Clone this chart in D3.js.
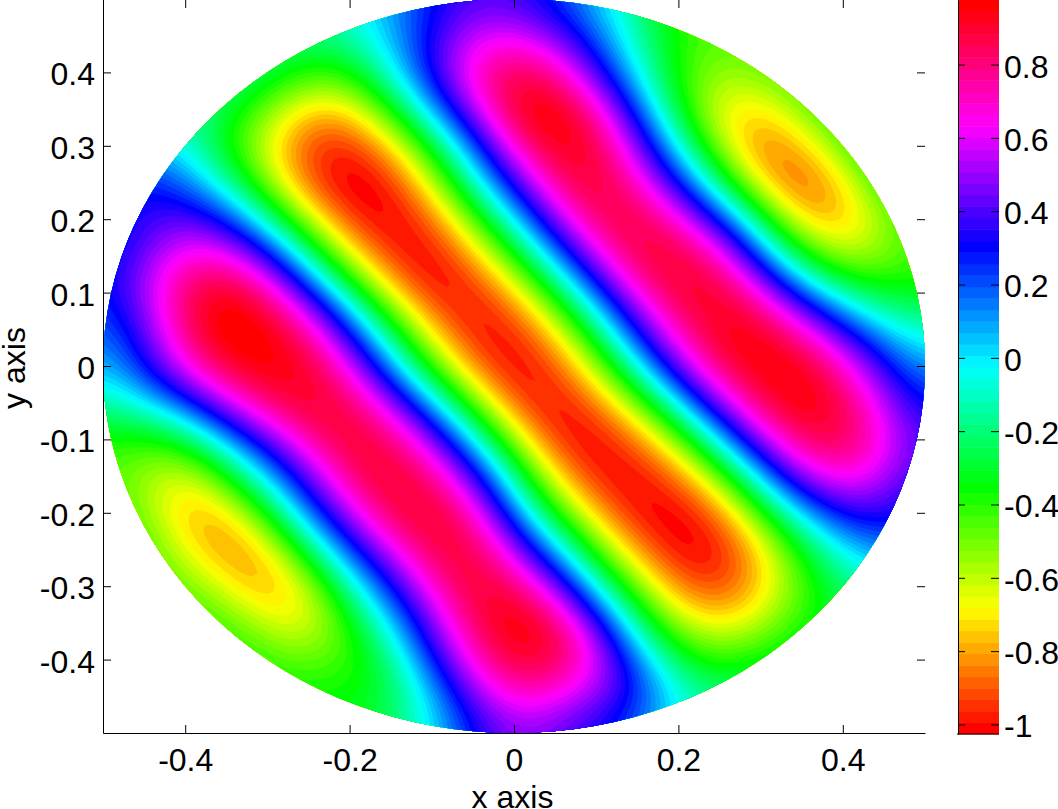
<!DOCTYPE html>
<html>
<head>
<meta charset="utf-8">
<script src="https://cdn.jsdelivr.net/npm/d3@7"></script>
<style>
  html, body { margin: 0; padding: 0; background: #fff; overflow: hidden; }
  text { font-family: "Liberation Sans", Arial, sans-serif; fill: #000; }
</style>
</head>
<body>
<svg width="1058" height="809"></svg>
<script>
// field values, every 0.05 in x and y (outside the disk: nearest colour)
const gridX = d3.range(21).map(i => -0.5 + i * 0.05);
const gridY = d3.range(21).map(i => 0.5 - i * 0.05);
const field = [
  [-.1,-.1,-.1,-.1,-.1,-.1,-.05,.1,.25,.32,.28,.18,.02,-.2,-.4,-.4,-.4,-.4,-.4,-.4,-.4],
  [-.1,-.1,-.1,-.1,-.15,-.2,-.12,.05,.3,.55,.58,.42,.18,-.12,-.36,-.42,-.4,-.4,-.4,-.4,-.4],
  [-.1,-.1,-.1,-.12,-.2,-.33,-.36,-.02,.33,.68,.82,.72,.32,-.05,-.38,-.5,-.4,-.35,-.3,-.3,-.3],
  [0,0,-.1,-.25,-.45,-.75,-.66,-.36,.1,.5,.93,.95,.72,.2,-.33,-.66,-.72,-.42,-.3,-.25,-.2],
  [.05,0,-.1,-.35,-.6,-.88,-.92,-.68,-.3,.12,.66,.9,.85,.45,-.03,-.55,-.84,-.72,-.38,-.2,-.15],
  [.3,.35,.2,-.14,-.5,-.85,-1.01,-.93,-.55,-.08,.33,.75,.87,.65,.28,-.2,-.72,-.92,-.68,-.3,-.2],
  [.15,.3,.38,.3,-.15,-.55,-.88,-.98,-.85,-.43,-.02,.47,.82,.85,.64,.28,-.2,-.72,-.78,-.5,-.3],
  [.2,.4,.66,.6,.38,-.15,-.62,-.88,-1,-.7,-.38,.1,.53,.85,.85,.72,.15,-.3,-.58,-.48,-.35],
  [.2,.5,.8,.93,.72,.33,-.2,-.64,-.97,-.95,-.7,-.3,.18,.65,.84,.87,.66,.15,-.15,-.33,-.3],
  [.08,.35,.75,.97,.9,.75,.28,-.23,-.66,-.94,-.93,-.64,-.23,.3,.7,.86,.9,.68,.33,0,-.12],
  [0,.3,.62,.85,.88,.85,.57,.09,-.44,-.79,-.98,-.85,-.51,-.03,.47,.82,.9,.88,.68,.33,.03],
  [-.15,-.03,.22,.55,.8,.88,.82,.51,.08,-.45,-.86,-.98,-.8,-.5,0,.48,.8,.95,.8,.5,.18],
  [-.35,-.38,-.33,.08,.36,.72,.86,.8,.47,.02,-.52,-.92,-.98,-.78,-.52,.05,.5,.78,.84,.64,.3],
  [-.4,-.5,-.66,-.33,.05,.38,.78,.87,.75,.4,-.15,-.66,-.92,-.98,-.78,-.52,.07,.52,.66,.5,.25],
  [-.35,-.42,-.82,-.7,-.33,.17,.5,.85,.87,.72,.13,-.35,-.72,-.94,-.98,-.8,-.42,.03,.33,.36,.2],
  [-.3,-.35,-.56,-.86,-.7,-.2,.2,.55,.82,.86,.5,.08,-.42,-.76,-.97,-.95,-.68,-.33,-.02,.15,.15],
  [-.4,-.4,-.42,-.56,-.86,-.6,-.1,.25,.64,.88,.78,.48,-.08,-.45,-.8,-.9,-.7,-.4,-.22,-.1,-.1],
  [-.35,-.35,-.35,-.38,-.52,-.72,-.33,-.02,.45,.75,.97,.85,.42,-.22,-.52,-.66,-.55,-.36,-.25,-.2,-.2],
  [-.3,-.3,-.3,-.3,-.38,-.42,-.4,-.25,.3,.64,.85,.82,.64,.18,-.3,-.38,-.3,-.2,-.2,-.2,-.2],
  [-.3,-.3,-.3,-.3,-.3,-.3,-.3,-.28,-.02,.42,.68,.6,.42,.33,-.02,-.15,-.15,-.15,-.15,-.15,-.15],
  [-.3,-.3,-.3,-.3,-.3,-.3,-.3,-.2,0,.22,.4,.32,.25,.1,-.1,-.15,-.15,-.15,-.15,-.15,-.15]
];
const xTicks = [-0.4, -0.2, 0, 0.2, 0.4];
const yTicks = [-0.4, -0.3, -0.2, -0.1, 0, 0.1, 0.2, 0.3, 0.4];
const barTicks = [-1, -0.8, -0.6, -0.4, -0.2, 0, 0.2, 0.4, 0.6, 0.8];
const valueRange = [-1.026, 0.976];
const levels = 64;

const svg = d3.select("svg");
const x = d3.scaleLinear().domain([-0.5, 0.5]).range([103, 925]);
const y = d3.scaleLinear().domain([-0.5, 0.5]).range([733, -1]);
const barY = d3.scaleLinear().domain(valueRange).range([734, 0]);

// matlab hsv colormap, one flat colour per level
const hue = d3.scaleLinear().domain([0, levels - 1]).range([0, 360]);
const levelColor = i => d3.hsl(hue(i), 1, 0.5).formatHex();
const thresholds = d3.range(levels).map(i => valueRange[0] + i * (valueRange[1] - valueRange[0]) / levels);

svg.append("clipPath").attr("id", "disk")
  .append("ellipse")
  .attr("cx", x(0)).attr("cy", y(0))
  .attr("rx", x(0.5) - x(0)).attr("ry", y(0) - y(0.5));

// the 0.05 grid is coarse for contouring, so resample it cubically before tracing
const sub = 8;
const nFine = (gridX.length - 1) * sub + 1;
function cubic(a, b, c, d, t) {
  return b + 0.5 * t * (c - a + t * (2 * a - 5 * b + 4 * c - d + t * (3 * (b - c) + d - a)));
}
const at = (r, c) => field[Math.max(0, Math.min(20, r))][Math.max(0, Math.min(20, c))];
const fine = new Float64Array(nFine * nFine);
for (let j = 0; j < nFine; j++) {
  const r = Math.min(19, Math.floor(j / sub)), v = j / sub - r;
  for (let i = 0; i < nFine; i++) {
    const c = Math.min(19, Math.floor(i / sub)), u = i / sub - c;
    const rowVal = k => cubic(at(r + k, c - 1), at(r + k, c), at(r + k, c + 1), at(r + k, c + 2), u);
    fine[j * nFine + i] = cubic(rowVal(-1), rowVal(0), rowVal(1), rowVal(2), v);
  }
}
// blur takes out the reading noise, the gain gives back what it took from the ridges
d3.blur2({data: fine, width: nFine, height: nFine}, 5);
const blurGain = 1.11;
for (let k = 0; k < fine.length; k++) fine[k] *= blurGain;

// contour grid coords -> data -> pixels
const toPx = d3.geoTransform({
  point: function(cx, cy) {
    this.stream.point(x(gridX[0] + (cx - 0.5) * 0.05 / sub), y(gridY[0] - (cy - 0.5) * 0.05 / sub));
  }
});
const path = d3.geoPath(toPx);
const contours = d3.contours().size([nFine, nFine]).smooth(true).thresholds(thresholds);

svg.append("g").attr("clip-path", "url(#disk)")
  .selectAll("path")
  .data(contours(Array.from(fine)))
  .join("path")
  .attr("d", path)
  .attr("fill", (d, i) => levelColor(i));

// main axes
const tickFmt = d => String(d);
svg.append("g").attr("transform", "translate(0,733)")
  .call(d3.axisBottom(x).tickValues(xTicks).tickSize(-8).tickSizeOuter(0).tickPadding(15).tickFormat(tickFmt));
svg.append("g").attr("transform", "translate(103,0)")
  .call(d3.axisLeft(y).tickValues(yTicks).tickSize(-8).tickSizeOuter(0).tickPadding(8).tickFormat(tickFmt));
const topAxis = svg.append("g")
  .call(d3.axisBottom(x).tickValues(xTicks).tickSize(8).tickFormat(""));
const rightAxis = svg.append("g").attr("transform", "translate(925,0)")
  .call(d3.axisLeft(y).tickValues(yTicks).tickSize(8).tickFormat(""));
topAxis.select(".domain").remove();
rightAxis.select(".domain").remove();

svg.append("text").attr("x", 512.5).attr("y", 808).attr("text-anchor", "middle")
  .style("font-size", "32px").text("x axis");
svg.append("text").attr("transform", "translate(25,368) rotate(-90)").attr("text-anchor", "middle")
  .style("font-size", "32px").text("y axis");

// colorbar
const bandH = barY(thresholds[0]) - barY(thresholds[1]);
svg.append("g").selectAll("rect")
  .data(thresholds)
  .join("rect")
  .attr("x", 958)
  .attr("width", 41)
  .attr("y", d => barY(d) - bandH)
  .attr("height", bandH + 0.5)
  .attr("fill", (d, i) => levelColor(i));

svg.append("g").attr("transform", "translate(958,0)")
  .call(d3.axisLeft(barY).tickValues(barTicks).tickSize(-7).tickSizeOuter(0).tickFormat(""));
const barRight = svg.append("g").attr("transform", "translate(999,0)")
  .call(d3.axisRight(barY).tickValues(barTicks).tickSize(-8).tickPadding(5).tickFormat(tickFmt));
barRight.select(".domain").remove();
svg.append("line").attr("x1", 957).attr("x2", 999).attr("y1", 734).attr("y2", 734).attr("stroke", "#000");

svg.selectAll(".tick text")
  .style("font-size", "32px")
  .style("font-family", '"Liberation Sans", Arial, sans-serif');
svg.selectAll("g .tick text").filter(function() { return this.getAttribute("x") !== null && +this.getAttribute("x") !== 0; })
  .attr("dy", "0.39em");
svg.selectAll(".tick line, .domain").attr("stroke", "#000");
</script>
</body>
</html>
